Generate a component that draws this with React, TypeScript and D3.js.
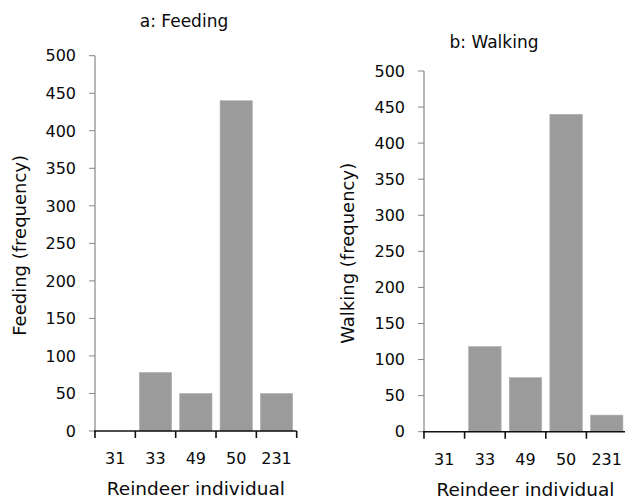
import React from 'react';
import * as d3 from 'd3';

// ---------------------------------------------------------------------------
// Data
// ---------------------------------------------------------------------------

const individuals = ['31', '33', '49', '50', '231'];
const feedingCounts = [0, 78, 50, 440, 50];
const walkingCounts = [0, 118, 75, 440, 23];
const yTicks = [0, 50, 100, 150, 200, 250, 300, 350, 400, 450, 500];

const FONT = '"DejaVu Sans", "Open Sans", sans-serif';
const BAR_COLOR = '#9b9b9b';
const Y_AXIS_COLOR = '#868686';
const TEXT_COLOR = '#0a0a0a';

interface PanelProps {
  title: string;
  yLabel: string;
  values: number[];
  x0: number; // y-axis position
  x1: number; // x-axis end
  yTop: number; // pixel of 500
  yBottom: number; // pixel of 0
  titleX: number;
  titleY: number;
  yLabelX: number;
}

function Panel({ title, yLabel, values, x0, x1, yTop, yBottom, titleX, titleY, yLabelX }: PanelProps) {
  const x = d3.scaleBand<string>()
    .domain(individuals)
    .range([x0, x1])
    .paddingInner(0.2)
    .paddingOuter(0.1);
  const y = d3.scaleLinear().domain([0, 500]).range([yBottom, yTop]);
  const step = x.step();
  const boundaries = d3.range(individuals.length + 1).map((i) => x0 + i * step);

  return (
    <g>
      <text x={titleX} y={titleY} textAnchor="middle" fontSize={17} fill={TEXT_COLOR}>{title}</text>

      {/* bars */}
      {values.map((v, i) => (
        <rect
          key={individuals[i]}
          x={x(individuals[i])!}
          y={y(v)}
          width={x.bandwidth()}
          height={yBottom - y(v)}
          fill={BAR_COLOR}
          stroke="#b0b0b0"
          strokeWidth={0.6}
        />
      ))}

      {/* y axis */}
      <line x1={x0} x2={x0} y1={yTop} y2={yBottom} stroke={Y_AXIS_COLOR} strokeWidth={1.2} />
      {yTicks.map((t) => (
        <g key={t}>
          <line x1={x0 - 6} x2={x0} y1={y(t)} y2={y(t)} stroke={Y_AXIS_COLOR} strokeWidth={1} />
          <text x={x0 - 19} y={y(t)} dy="0.36em" textAnchor="end" fontSize={16} fill={TEXT_COLOR}>{t}</text>
        </g>
      ))}

      {/* x axis */}
      <line x1={x0 - 1} x2={x1} y1={yBottom} y2={yBottom} stroke="#111" strokeWidth={1.6} />
      {boundaries.map((bx, i) => (
        <line key={i} x1={bx} x2={bx} y1={yBottom} y2={yBottom + 7} stroke="#111" strokeWidth={1.6} />
      ))}
      {individuals.map((d) => (
        <text key={d} x={x(d)! + x.bandwidth() / 2} y={yBottom + 33} textAnchor="middle" fontSize={16} fill={TEXT_COLOR}>{d}</text>
      ))}
      <text x={(x0 + x1) / 2} y={yBottom + 64} textAnchor="middle" fontSize={18.5} fill={TEXT_COLOR}>Reindeer individual</text>

      <text
        transform={`translate(${yLabelX},${(yTop + yBottom) / 2 + 2}) rotate(-90)`}
        textAnchor="middle"
        dy="0.35em"
        fontSize={18}
        fill={TEXT_COLOR}
      >
        {yLabel}
      </text>
    </g>
  );
}

export default function App() {
  return (
    <div style={{ position: 'fixed', left: 0, top: 0, width: 625, height: 501, background: '#fff' }}>
      <svg width={625} height={501} style={{ display: 'block', fontFamily: FONT }}>
        <Panel
          title="a: Feeding"
          yLabel="Feeding (frequency)"
          values={feedingCounts}
          x0={95}
          x1={296.7}
          yTop={55.7}
          yBottom={431}
          titleX={184}
          titleY={27}
          yLabelX={20}
        />
        <Panel
          title="b: Walking"
          yLabel="Walking (frequency)"
          values={walkingCounts}
          x0={424}
          x1={627}
          yTop={71}
          yBottom={431.7}
          titleX={494}
          titleY={48}
          yLabelX={348}
        />
      </svg>
    </div>
  );
}
